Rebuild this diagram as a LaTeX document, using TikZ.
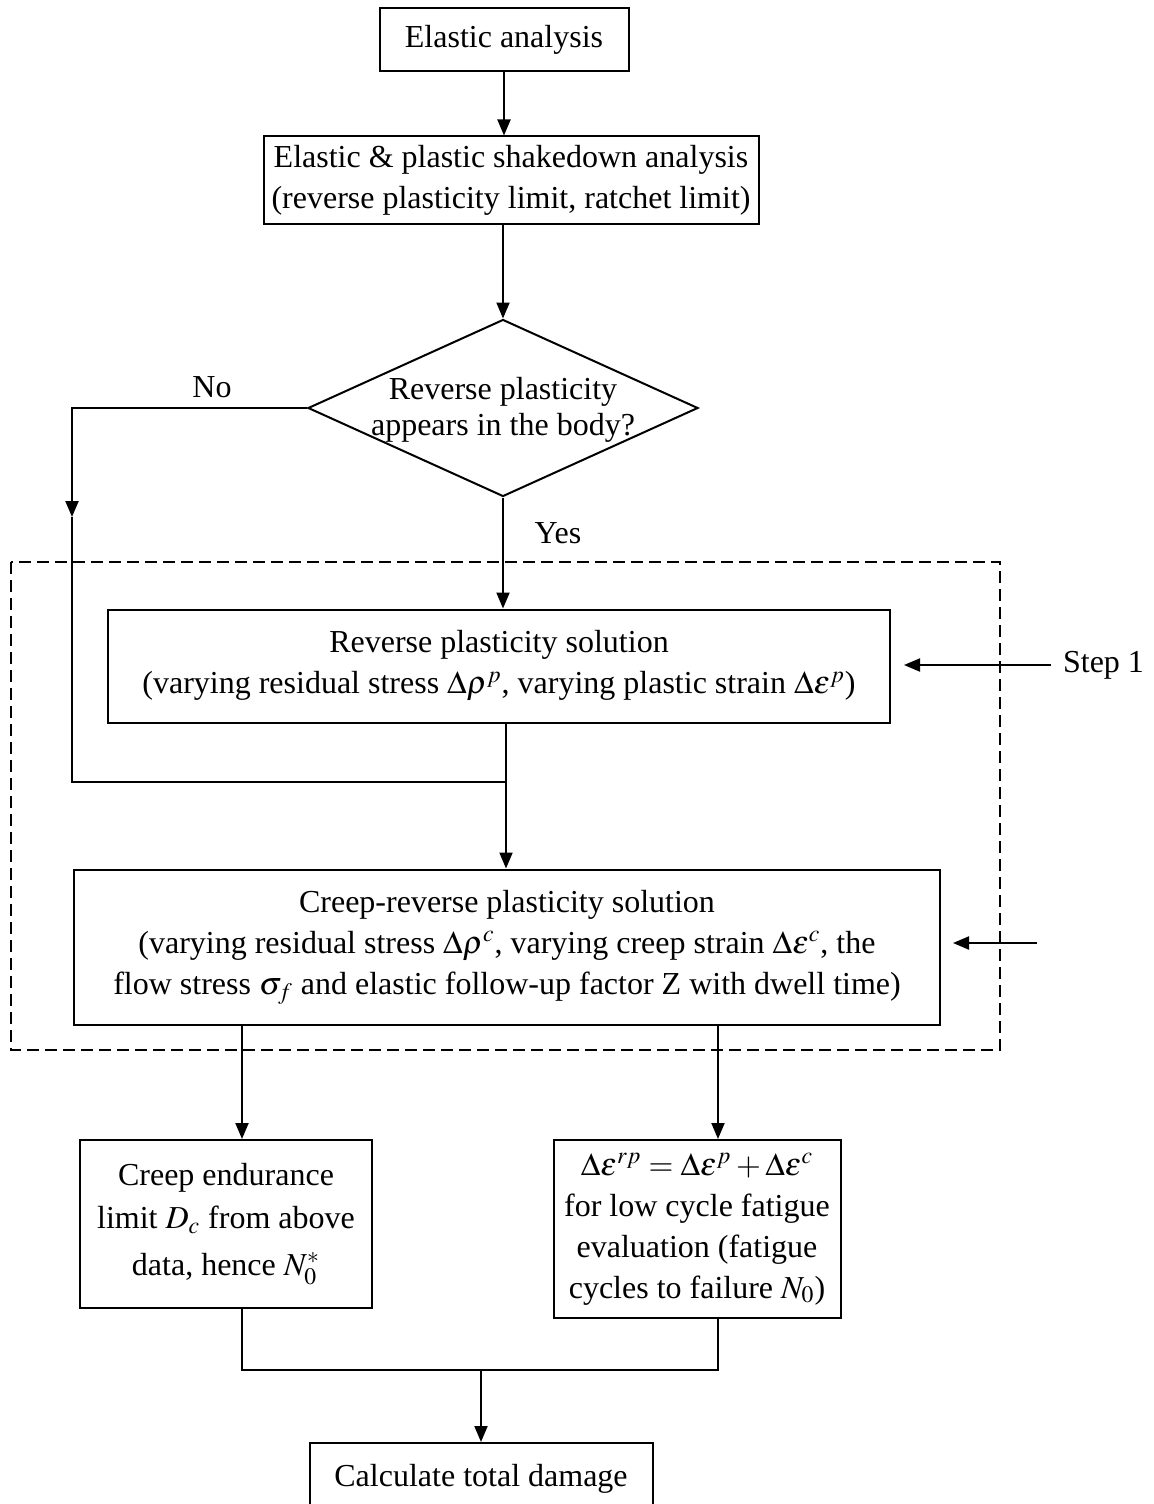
\documentclass[tikz,border=0pt]{standalone}
\usepackage{mathptmx}
\usepackage{fontspec}
\setmainfont{Liberation Serif}
\usetikzlibrary{arrows.meta,shapes.geometric}

\tikzset{
  flowbox/.style={draw, line width=1pt, align=center, inner sep=2pt,
                  font=\fontsize{16}{20.5}\selectfont},
  flowtext/.style={align=center, font=\fontsize{16}{20.5}\selectfont},
  flowline/.style={line width=1pt},
  flowarrow/.style={line width=1pt, -{Triangle[length=8pt,width=6.5pt]}},
}

\begin{document}
\begin{tikzpicture}[x=0.5pt,y=-0.5pt]

\def\picW{1153}
\def\picH{1504}
\def\mergeY{1370}

\useasboundingbox (0,0) rectangle (\picW,\picH);

% boxes
\node [flowbox, minimum width=124.5pt, minimum height=31.5pt] (elastic) at (504,40) {Elastic analysis};
\node [flowbox, minimum width=247.5pt, minimum height=43.5pt] (shake) at (511,180)
      {Elastic \& plastic shakedown analysis\\(reverse plasticity limit, ratchet limit)};
\node [draw, line width=1pt, diamond, inner sep=0pt,
       minimum width=195pt, minimum height=88.5pt] (reverse) at (503,408) {};
\node [flowtext, font=\fontsize{16}{18}\selectfont] (reversetext) at ([yshift=-1pt]reverse.center)
      {Reverse plasticity\\appears in the body?};
\node [flowbox, minimum width=391pt, minimum height=56.5pt] (rplas) at (499,666)
      {Reverse plasticity solution\\(varying residual stress $\Delta\rho^{p}$, varying plastic strain $\Delta\varepsilon^{p}$)};
\node [flowbox, minimum width=433pt, minimum height=77.5pt] (creep) at (507,947)
      {Creep-reverse plasticity solution\\(varying residual stress $\Delta\rho^{c}$, varying creep strain $\Delta\varepsilon^{c}$, the\\flow stress $\sigma_{f}$ and elastic follow-up factor Z with dwell time)};
\node [flowbox, minimum width=146pt, minimum height=84pt] (endur) at (226,1224)
      {Creep endurance\\[1pt]limit $D_{c}$ from above\\[3pt]data, hence $N_{0}^{*}$};
\node [flowbox, minimum width=143.5pt, minimum height=89pt] (res) at (697,1229)
      {$\Delta\varepsilon^{rp} = \Delta\varepsilon^{p} + \Delta\varepsilon^{c}$\\for low cycle fatigue\\evaluation (fatigue\\cycles to failure $N_{0}$)};
\node [flowbox, minimum width=171.5pt, minimum height=36pt] (calc) at (481,1479) {Calculate total damage};

% labels
\node [flowtext] (no) at (212,387) {No};
\node [flowtext] (yes) at (558,533) {Yes};
\node [flowtext, anchor=west] (step1) at (1056,665) {Step 1};

% step frame
\draw [flowline, dash pattern=on 6pt off 3pt] (11,562) rectangle (1000,1050);

% points for the lines
\coordinate (nocorner) at (72,408);
\coordinate (nomid) at (72,517);
\coordinate (join) at (506,782);
\coordinate (colL) at (242,0);
\coordinate (colR) at (718,0);
\coordinate (merge) at (481,\mergeY);
\coordinate (s2) at (1037,943);

% main line
\draw [flowarrow] (elastic.south) -- (elastic.south |- shake.north);
\draw [flowarrow] (shake.south -| reverse.north) -- (reverse.north);
\draw [flowarrow] (reverse.south) -- (reverse.south |- rplas.north);
\draw [flowline] (rplas.south -| join) -- (join);
\draw [flowarrow] (join) -- (join |- creep.north);

% no branch
\draw [flowarrow] (reverse.west) -- (nocorner) -- (nomid);
\draw [flowline] (nomid) -- (nomid |- join) -- (join);

% step arrows
\draw [flowarrow, shorten <=2.5pt, shorten >=6.5pt] (step1.west) -- (step1.west -| rplas.east);
\draw [flowarrow, shorten >=6pt] (s2) -- (s2 -| creep.east);

% two results
\draw [flowarrow] (creep.south -| colL) -- (endur.north -| colL);
\draw [flowarrow] (creep.south -| colR) -- (res.north -| colR);
\draw [flowline] (endur.south -| colL) -- (colL |- merge) -- (colR |- merge) -- (res.south -| colR);
\draw [flowarrow] (merge) -- (calc.north);

\end{tikzpicture}
\end{document}
